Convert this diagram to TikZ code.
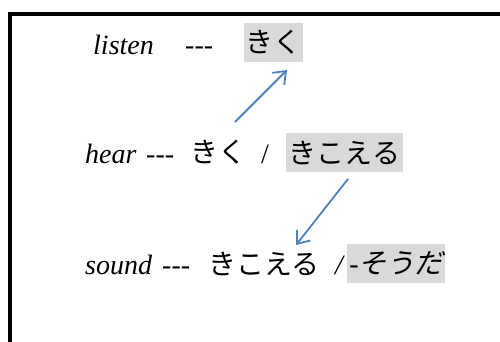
\documentclass[tikz,border=0pt]{standalone}
\usepackage{fontspec}
\setmainfont{Liberation Serif}
\newfontfamily\cjk{Noto Sans CJK JP}
\newfontfamily\cjkit[FakeSlant=0.25]{Noto Sans CJK JP}
\usetikzlibrary{arrows.meta}
\definecolor{arrowblue}{RGB}{79,129,189}
\definecolor{hl}{RGB}{217,217,217}
\begin{document}
\begin{tikzpicture}[x=1pt,y=-1pt,
  en/.style={font=\fontsize{28}{30}\selectfont, inner sep=0pt, anchor=base west},
  ja/.style={font=\cjk\fontsize{28}{30}\selectfont, inner sep=0pt, anchor=center},
  hlbox/.style={ja, fill=hl, minimum height=39pt},
  conn/.style={arrowblue, line width=1.8pt, -{Straight Barb[length=11pt,width=17pt,line width=1.8pt]}}]
\useasboundingbox (0,0) rectangle (500,341);
\clip (0,0) rectangle (500,341);
\draw[line width=4pt] (10,350) -- (10,14) -- (510,14);
% line 1
\node[en] (listen) at (93,54) {\itshape listen};
\node[en] (d1) at (185,54) {-{}-{}-};
\node[hlbox, minimum width=59pt] (kiku1) at (273.5,42.5) {きく};
% line 2
\node[en] (hear) at (85,163) {\itshape hear};
\node[en] (d2) at (146,163) {-{}-{}-};
\node[ja] (kiku2) at (218,152.5) {きく};
\node[en] (s2) at (261,163) {/};
\node[hlbox, minimum width=117pt] (kikoeru1) at (344.5,152.5) {きこえる};
% line 3
\node[en] (sound) at (85,274) {\itshape sound};
\node[en] (d3) at (162,274) {-{}-{}-};
\node[ja] (kikoeru2) at (264,263.5) {きこえる};
\node[en] (s3) at (335,274) {\itshape /};
\node[hlbox, minimum width=98pt] (souda) at (396,263.5) {\fontsize{28}{30}\selectfont\rmfamily -\cjkit そうだ};
% arrows
\coordinate (a1s) at (235,122);
\coordinate (a1e) at (287,70);
\coordinate (a2s) at (348,179);
\coordinate (a2e) at (296,245);
\draw[conn] (a1s) -- (a1e);
\draw[conn] (a2s) -- (a2e);
\end{tikzpicture}
\end{document}
